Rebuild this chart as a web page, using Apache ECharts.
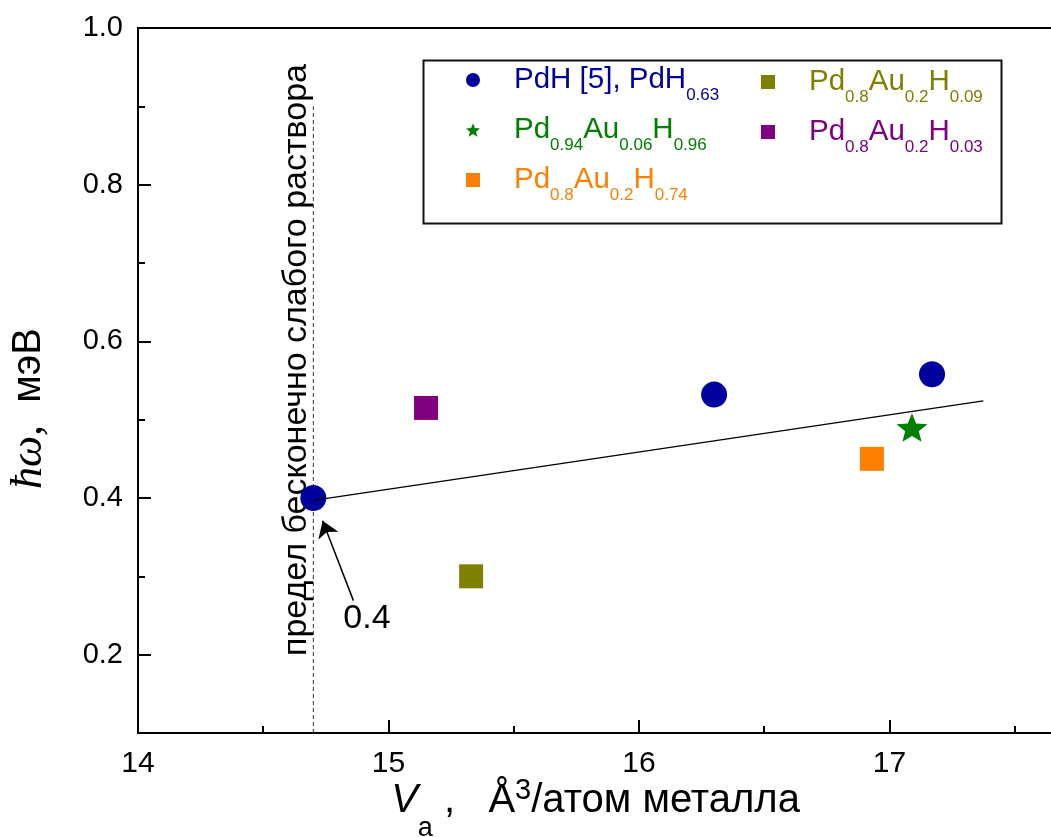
<!DOCTYPE html>
<html>
<head>
<meta charset="utf-8">
<script src="https://cdn.jsdelivr.net/npm/echarts@6/dist/echarts.min.js"></script>
<style>
  html, body { margin: 0; padding: 0; background: #fff; }
  #chart { width: 1051px; height: 837px; }
</style>
</head>
<body>
<div id="chart"></div>
<script>
// Axis ticks: long ticks carry labels, short ones sit halfway between
const xTicksMajor = [14, 15, 16, 17];
const xTicksMinor = [14.5, 15.5, 16.5, 17.5];
const yTicksMajor = [0.2, 0.4, 0.6, 0.8, 1.0];
const yTicksMinor = [0.3, 0.5, 0.7, 0.9];

// Measured points: [V_a (Å^3 per metal atom), ħω (meV)]
const pdH      = [[14.70, 0.400], [16.30, 0.532], [17.17, 0.558]];
const pdAu006  = [[17.09, 0.490]];
const pdAu074  = [[16.93, 0.450]];
const pdAu009  = [[15.33, 0.300]];
const pdAu003  = [[15.15, 0.515]];

// Linear trend through the data
const fitLine = [[14.70, 0.397], [17.375, 0.524]];
// Dilute-solution limit marker
const limitLine = [[14.70, 0.1], [14.70, 0.9]];
// Arrow pointing at the limit value 0.4
const arrowTail = [14.86, 0.269];
const arrowTip = [14.737, 0.371];

const names = [
  'PdH [5], PdH0.63',
  'Pd0.94Au0.06H0.96',
  'Pd0.8Au0.2H0.74',
  'Pd0.8Au0.2H0.09',
  'Pd0.8Au0.2H0.03'
];
const richNames = {
  'PdH [5], PdH0.63': '{m|PdH [5], PdH}{s|0.63}',
  'Pd0.94Au0.06H0.96': '{m|Pd}{s|0.94}{m|Au}{s|0.06}{m|H}{s|0.96}',
  'Pd0.8Au0.2H0.74': '{m|Pd}{s|0.8}{m|Au}{s|0.2}{m|H}{s|0.74}',
  'Pd0.8Au0.2H0.09': '{m|Pd}{s|0.8}{m|Au}{s|0.2}{m|H}{s|0.09}',
  'Pd0.8Au0.2H0.03': '{m|Pd}{s|0.8}{m|Au}{s|0.2}{m|H}{s|0.03}'
};
const colors = ['#00009C', '#008000', '#FF8000', '#808000', '#800080'];

const SANS = '"Liberation Sans", Arial, sans-serif';
const SERIF = '"Liberation Serif", "Times New Roman", serif';
const STAR = 'path://M50,0 L62.93,32.2 L97.55,34.55 L70.92,56.8 L79.39,90.45 L50,72 L20.61,90.45 L29.08,56.8 L2.45,34.55 L37.07,32.2 Z';

const legendText = {
  fontFamily: SANS,
  fontSize: 29.5,
  padding: [0, 0, 0, 29],
  rich: {
    m: { fontFamily: SANS, fontSize: 29.5, lineHeight: 34 },
    s: { fontFamily: SANS, fontSize: 17, lineHeight: 34, padding: [31, 0, 0, 0] }
  }
};

const chart = echarts.init(document.getElementById('chart'), null, { renderer: 'canvas' });

function scatter(name, data, symbol, size, color) {
  return {
    name: name, type: 'scatter', data: data,
    symbol: symbol, symbolSize: size, symbolKeepAspect: true,
    itemStyle: { color: color, opacity: 1 },
    silent: true, emphasis: { disabled: true }, z: 3
  };
}

const axisLineStyle = { color: '#000', width: 2 };

chart.setOption({
  backgroundColor: '#fff',
  animation: false,
  grid: {
    left: 138, top: 28, right: -2, bottom: 104,
    show: true, borderColor: '#000', borderWidth: 2,
    outerBoundsMode: 'none'
  },
  xAxis: [
    {
      type: 'value', min: 14, max: 17.653, position: 'bottom',
      axisLine: { show: true, lineStyle: axisLineStyle },
      axisTick: { show: true, inside: true, length: 13, lineStyle: axisLineStyle, customValues: xTicksMajor },
      axisLabel: { show: true, customValues: xTicksMajor, fontSize: 30, fontFamily: SANS, color: '#000', margin: 16 },
      splitLine: { show: false },
      name: '{v|V}{a|a}{n| ,   Å}{sup|3}{n|/атом металла}',
      nameLocation: 'middle', nameGap: 47, nameMoveOverlap: false,
      nameTextStyle: {
        color: '#000', fontFamily: SANS, fontSize: 40,
        rich: {
          v: { fontFamily: SANS, fontSize: 40, fontStyle: 'italic', lineHeight: 42 },
          a: { fontFamily: SANS, fontSize: 27, lineHeight: 42, padding: [56, 0, 0, 0] },
          n: { fontFamily: SANS, fontSize: 40, lineHeight: 42 },
          sup: { fontFamily: SANS, fontSize: 29, lineHeight: 42, padding: [0, 0, 20, 0] }
        }
      }
    },
    {
      type: 'value', min: 14, max: 17.653, position: 'bottom',
      axisLine: { show: false },
      axisTick: { show: true, inside: true, length: 7, lineStyle: axisLineStyle, customValues: xTicksMinor },
      axisLabel: { show: false },
      splitLine: { show: false }
    }
  ],
  yAxis: [
    {
      type: 'value', min: 0.1, max: 1.0, position: 'left',
      axisLine: { show: true, lineStyle: axisLineStyle },
      axisTick: { show: true, inside: true, length: 13, lineStyle: axisLineStyle, customValues: yTicksMajor },
      axisLabel: {
        show: true, customValues: yTicksMajor, fontSize: 29, fontFamily: SANS, color: '#000', margin: 15,
        formatter: v => v.toFixed(1)
      },
      splitLine: { show: false },
      name: '{h|ħω,}{n|  мэВ}',
      nameLocation: 'middle', nameGap: 86, nameRotate: 90, nameMoveOverlap: false,
      nameTextStyle: {
        color: '#000', fontFamily: SANS, fontSize: 40,
        padding: [0, 56, 0, 0],
        rich: {
          h: { fontFamily: SERIF, fontStyle: 'italic', fontSize: 44, lineHeight: 46 },
          n: { fontFamily: SANS, fontSize: 40, lineHeight: 46 }
        }
      }
    },
    {
      type: 'value', min: 0.1, max: 1.0, position: 'left',
      axisLine: { show: false },
      axisTick: { show: true, inside: true, length: 7, lineStyle: axisLineStyle, customValues: yTicksMinor },
      axisLabel: { show: false },
      splitLine: { show: false }
    }
  ],
  legend: [
    {
      orient: 'vertical', left: 461, top: 51,
      itemWidth: 14, itemHeight: 14, itemGap: 2,
      selectedMode: false,
      data: names.slice(0, 3).map((n, i) => ({ name: n, textStyle: { color: colors[i] } })),
      formatter: n => richNames[n],
      textStyle: legendText
    },
    {
      orient: 'vertical', left: 756, top: 53,
      itemWidth: 14, itemHeight: 14, itemGap: 2,
      selectedMode: false,
      data: names.slice(3).map((n, i) => ({ name: n, textStyle: { color: colors[i + 3] } })),
      formatter: n => richNames[n],
      textStyle: legendText
    }
  ],
  graphic: [
    {
      type: 'rect', left: 421, top: 58, silent: true,
      shape: { width: 578, height: 163 },
      style: { fill: 'none', stroke: '#111', lineWidth: 2 }
    },
    {
      type: 'text', x: 297, y: 360, rotation: Math.PI / 2, silent: true,
      style: {
        text: 'предел бесконечно слабого раствора',
        fontFamily: SANS, fontSize: 34, fill: '#000',
        align: 'center', verticalAlign: 'middle'
      }
    },
    {
      type: 'text', x: 367, y: 619, silent: true,
      style: {
        text: '0.4', fontFamily: SANS, fontSize: 34, fill: '#000',
        align: 'center', verticalAlign: 'middle'
      }
    }
  ],
  series: [
    {
      name: 'limit', type: 'line', data: limitLine, symbol: 'none', silent: true,
      lineStyle: { color: '#333', width: 1, type: [4, 3] }, z: 1
    },
    scatter(names[0], pdH, 'circle', 26, colors[0]),
    scatter(names[1], pdAu006, STAR, [31, 30], colors[1]),
    scatter(names[2], pdAu074, 'rect', 24, colors[2]),
    scatter(names[3], pdAu009, 'rect', 24, colors[3]),
    scatter(names[4], pdAu003, 'rect', 24, colors[4]),
    {
      name: 'fit', type: 'line', data: fitLine, symbol: 'none', silent: true,
      lineStyle: { color: '#000', width: 1.2 }, z: 4
    },
    {
      name: 'arrow', type: 'line', data: [], silent: true,
      markLine: {
        silent: true, animation: false,
        symbol: ['none', 'arrow'], symbolSize: 16,
        label: { show: false },
        lineStyle: { color: '#000', width: 1.5, type: 'solid' },
        emphasis: { disabled: true },
        data: [[{ coord: arrowTail }, { coord: arrowTip }]]
      }
    }
  ]
});
</script>
</body>
</html>
